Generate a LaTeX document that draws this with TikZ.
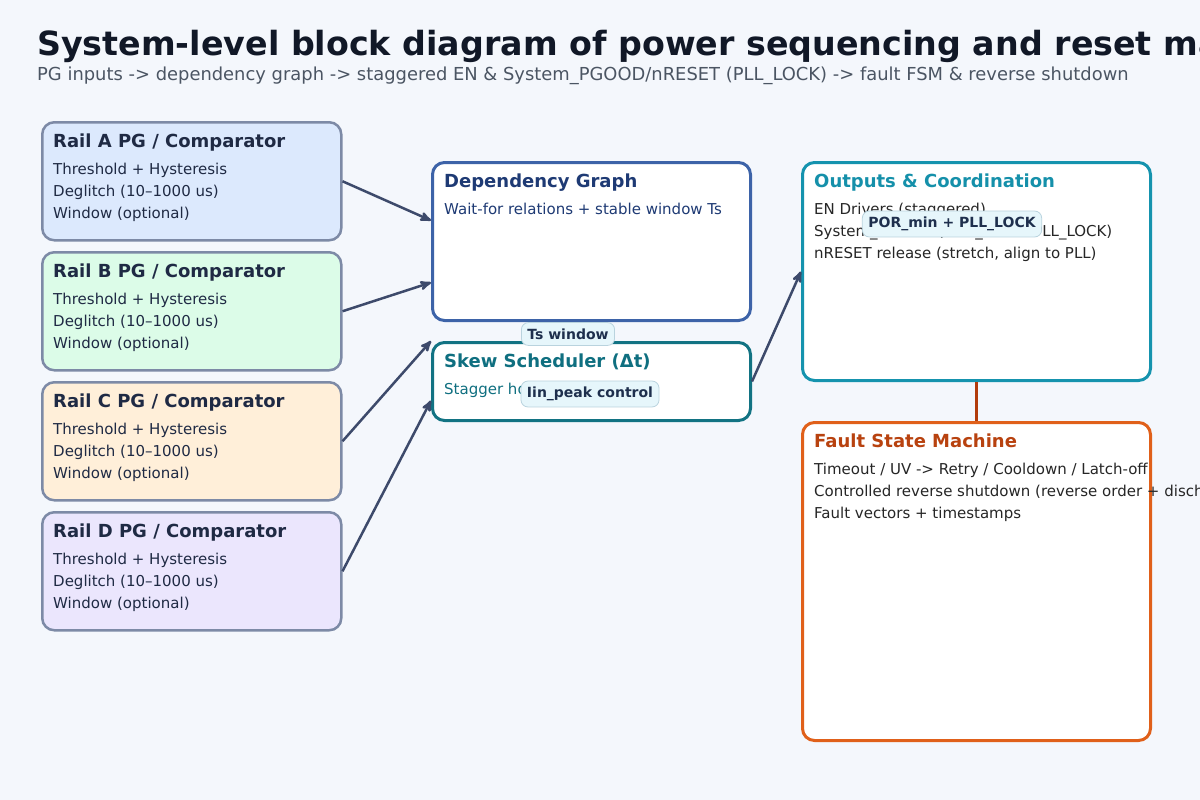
\documentclass[tikz,border=0pt]{standalone}
\usepackage{fontspec}
\setmainfont{DejaVu Sans}
\usetikzlibrary{arrows,positioning}
\definecolor{pagebg}{HTML}{F4F7FC}
\definecolor{titlecol}{HTML}{111827}
\definecolor{subcol}{HTML}{4B5563}
\definecolor{railline}{HTML}{7D8AA6}
\definecolor{railtext}{HTML}{1F2A44}
\definecolor{railAfill}{HTML}{DCE9FD}
\definecolor{railBfill}{HTML}{DCFCE8}
\definecolor{railCfill}{HTML}{FFEFD9}
\definecolor{railDfill}{HTML}{EBE6FD}
\definecolor{depline}{HTML}{3D63A8}
\definecolor{deptext}{HTML}{1E3A74}
\definecolor{skewline}{HTML}{127383}
\definecolor{skewtext}{HTML}{0F6F80}
\definecolor{outline}{HTML}{1593AE}
\definecolor{outtext}{HTML}{1590AA}
\definecolor{faultline}{HTML}{E0601A}
\definecolor{faulttext}{HTML}{B8420F}
\definecolor{faultlink}{HTML}{B23C0C}
\definecolor{linkcol}{HTML}{3D4A6B}
\definecolor{pillfill}{HTML}{E6F6FB}
\definecolor{pillline}{HTML}{B9D3DE}
\definecolor{pilltext}{HTML}{1E2F4D}
\tikzset{rail box/.style={rectangle,rounded corners=12pt,draw=railline,line width=2.5pt,minimum width=299pt,minimum height=118pt,anchor=north west,inner sep=0pt},
         block/.style={rectangle,rounded corners=12pt,fill=white,line width=3pt,anchor=north west,inner sep=0pt},
         box title/.style={anchor=base west,font=\fontsize{18}{21}\selectfont\bfseries,inner sep=0pt},
         box line/.style={anchor=base west,font=\fontsize{15}{18}\selectfont,inner sep=0pt},
         edge label/.style={rectangle,rounded corners=7pt,fill=pillfill,draw=pillline,line width=0.8pt,font=\fontsize{14}{16}\selectfont\bfseries,text=pilltext,inner xsep=6pt,inner ysep=6pt}
}

\begin{document}
\begin{tikzpicture}[x=1pt,y=-1pt,>=stealth',
link/.style={->,draw=linkcol,line width=2.5pt}]

\fill[pagebg] (0,0) rectangle (1200,800);
\useasboundingbox (0,0) rectangle (1200,800);

\node[anchor=base west,inner sep=0pt,text=titlecol,font=\fontsize{33.3}{40}\selectfont\bfseries] (title) at (37,56) {System-level block diagram of power sequencing and reset management};
\node[anchor=base west,inner sep=0pt,text=subcol,font=\fontsize{17.9}{21}\selectfont] (subtitle) at (37,81) {PG inputs -> dependency graph -> staggered EN \& System\_PGOOD/nRESET (PLL\_LOCK) -> fault FSM \& reverse shutdown};

% PG comparators
\foreach \n/\fillc/\top in {A/railAfill/121,B/railBfill/251,C/railCfill/381,D/railDfill/511}{
  \node[rail box,fill=\fillc] (rail\n) at (41,\top) {};
  \node[box title,text=railtext] at ([shift={(12,26)}]rail\n.north west) {Rail \n\ PG / Comparator};
  \node[box line,text=railtext] at ([shift={(12,53)}]rail\n.north west) {Threshold + Hysteresis};
  \node[box line,text=railtext] at ([shift={(12,75)}]rail\n.north west) {Deglitch (10–1000 us)};
  \node[box line,text=railtext] at ([shift={(12,97)}]rail\n.north west) {Window (optional)};
}

% dependency graph and scheduler
\node[block,draw=depline,minimum width=318pt,minimum height=158pt] (dep) at (431,161) {};
\node[box title,text=deptext] at ([shift={(13,26)}]dep.north west) {Dependency Graph};
\node[box line,text=deptext] at ([shift={(13,53)}]dep.north west) {Wait-for relations + stable window Ts};

\node[block,draw=skewline,minimum width=318pt,minimum height=78pt] (skew) at (431,341) {};
\node[box title,text=skewtext] at ([shift={(13,26)}]skew.north west) {Skew Scheduler (Δt)};
\node[box line,text=skewtext] at ([shift={(13,53)}]skew.north west) {Stagger hold-off};

% outputs and fault handling
\node[block,draw=outline,minimum width=348pt,minimum height=218pt] (outputs) at (801,161) {};
\node[box title,text=outtext] at ([shift={(13,26)}]outputs.north west) {Outputs \& Coordination};
\node[box line,text=black!85] at ([shift={(13,53)}]outputs.north west) {EN Drivers (staggered)};
\node[box line,text=black!85] at ([shift={(13,75)}]outputs.north west) {System\_PGOOD (POR\_min + PLL\_LOCK)};
\node[box line,text=black!85] at ([shift={(13,97)}]outputs.north west) {nRESET release (stretch, align to PLL)};

\node[block,draw=faultline,minimum width=348pt,minimum height=318pt] (fault) at (801,421) {};
\node[box title,text=faulttext] at ([shift={(13,26)}]fault.north west) {Fault State Machine};
\node[box line,text=black!85] at ([shift={(13,53)}]fault.north west) {Timeout / UV -> Retry / Cooldown / Latch-off};
\node[box line,text=black!85] at ([shift={(13,75)}]fault.north west) {Controlled reverse shutdown (reverse order + discharge)};
\node[box line,text=black!85] at ([shift={(13,97)}]fault.north west) {Fault vectors + timestamps};

% connectors
\draw[link] (railA.east) -- ([shift={(0,-21)}]dep.west);
\draw[link] (railB.east) -- ([shift={(0,41)}]dep.west);
\draw[link] (railC.east) -- (skew.north west);
\draw[link] (railD.east) -- ([shift={(0,19)}]skew.west);
\draw[link] (skew.east) -- (outputs.west);
\draw[draw=faultlink,line width=3pt] (outputs.south) -- (fault.north);

\node[edge label] (tslabel) at (568,334) {Ts window};
\node[edge label] (iinlabel) at (590,394) {Iin\_peak control};
\node[edge label] (porlabel) at (952,224) {POR\_min + PLL\_LOCK};
\end{tikzpicture}
\end{document}
